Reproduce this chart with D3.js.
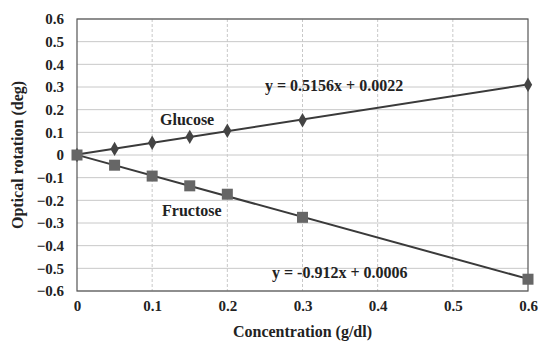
<!DOCTYPE html>
<html>
<head>
<meta charset="utf-8">
<script src="https://cdn.jsdelivr.net/npm/d3@7"></script>
<style>
  body { margin: 0; background: #fff; }
  text { font-family: "Liberation Serif", "Times New Roman", serif; font-weight: bold; fill: #222; }
</style>
</head>
<body>
<div id="viz"></div>
<script>
// data
const concentration = [0, 0.05, 0.1, 0.15, 0.2, 0.3, 0.6];
const glucose = [0, 0.027, 0.054, 0.080, 0.107, 0.153, 0.310];
const fructose = [0, -0.045, -0.093, -0.136, -0.173, -0.275, -0.548];
const xTicks = [0, 0.1, 0.2, 0.3, 0.4, 0.5, 0.6];
const yTicks = [0.6, 0.5, 0.4, 0.3, 0.2, 0.1, 0, -0.1, -0.2, -0.3, -0.4, -0.5, -0.6];
const fitSlopes = [0.5156, -0.912];
const fitIntercepts = [0.0022, 0.0006];
const fitLabels = ["y = 0.5156x + 0.0022", "y = -0.912x + 0.0006"];

const margin = {top: 19, right: 13, bottom: 50, left: 77},
  width = 541 - margin.left - margin.right,
  height = 341 - margin.top - margin.bottom;

const svg = d3.select("#viz")
  .append("svg")
    .attr("width", 541)
    .attr("height", 341)
  .append("g")
    .attr("transform", "translate(" + margin.left + "," + margin.top + ")");

const x = d3.scaleLinear().domain([0, 0.6]).range([0, width]);
const y = d3.scaleLinear().domain([-0.6, 0.6]).range([height, 0]);

// grid
svg.append("g")
  .selectAll("line")
  .data(yTicks)
  .enter().append("line")
    .attr("x1", 0).attr("x2", width)
    .attr("y1", d => y(d)).attr("y2", d => y(d))
    .attr("stroke", "#c8c8c8").attr("stroke-width", 1);

svg.append("g")
  .selectAll("line")
  .data(xTicks.slice(1, -1))
  .enter().append("line")
    .attr("x1", d => x(d)).attr("x2", d => x(d))
    .attr("y1", 0).attr("y2", height)
    .attr("stroke", "#c8c8c8").attr("stroke-width", 1)
    .attr("stroke-dasharray", "3,2");

// frame
svg.append("rect")
  .attr("x", 0).attr("y", 0)
  .attr("width", width).attr("height", height)
  .attr("fill", "none").attr("stroke", "#555").attr("stroke-width", 1.2);

// axes
const fmt = d => d === 0 ? "0" : d3.format(".1f")(d);
const xAxis = svg.append("g")
  .attr("transform", "translate(0," + height + ")")
  .call(d3.axisBottom(x).tickValues(xTicks).tickSize(0).tickPadding(9).tickFormat(fmt));
const yAxis = svg.append("g")
  .call(d3.axisLeft(y).tickValues(yTicks).tickSize(0).tickPadding(13).tickFormat(fmt));
[xAxis, yAxis].forEach(a => {
  a.select(".domain").remove();
  a.selectAll("text").style("font-size", "15px").style("font-family", "Liberation Serif").style("font-weight", "bold").attr("fill", "#222");
});

// trend lines
fitSlopes.forEach((m, i) => {
  svg.append("line")
    .attr("x1", x(0)).attr("y1", y(fitIntercepts[i]))
    .attr("x2", x(0.6)).attr("y2", y(m * 0.6 + fitIntercepts[i]))
    .attr("stroke", "#3a3a3a").attr("stroke-width", 2);
});

// glucose markers (diamond)
svg.append("g")
  .selectAll("path")
  .data(concentration)
  .enter().append("path")
    .attr("d", d3.symbol().type(d3.symbolDiamond).size(60))
    .attr("transform", (d, i) => "translate(" + x(d) + "," + y(glucose[i]) + ")")
    .attr("fill", "#444");

// fructose markers (square)
svg.append("g")
  .selectAll("rect")
  .data(concentration)
  .enter().append("rect")
    .attr("x", d => x(d) - 5.5)
    .attr("y", (d, i) => y(fructose[i]) - 5.5)
    .attr("width", 11).attr("height", 11)
    .attr("fill", "#666");

// labels
svg.append("text").attr("x", 83).attr("y", 106).style("font-size", "16px").text("Glucose");
svg.append("text").attr("x", 85).attr("y", 197).style("font-size", "16px").text("Fructose");
svg.append("text").attr("x", 188).attr("y", 72).style("font-size", "16px").text(fitLabels[0]);
svg.append("text").attr("x", 195).attr("y", 259).style("font-size", "16px").text(fitLabels[1]);

// axis titles
svg.append("text")
  .attr("x", width / 2).attr("y", height + 46)
  .attr("text-anchor", "middle").style("font-size", "16px")
  .text("Concentration (g/dl)");
svg.append("text")
  .attr("transform", "translate(" + (-54) + "," + (height / 2) + ") rotate(-90)")
  .attr("text-anchor", "middle").style("font-size", "16px")
  .text("Optical rotation (deg)");
</script>
</body>
</html>
